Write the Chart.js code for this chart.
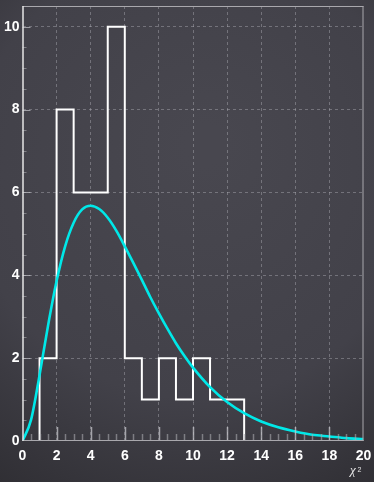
<!DOCTYPE html>
<html>
<head>
<meta charset="utf-8">
<script src="https://cdn.jsdelivr.net/npm/chart.js@4/dist/chart.umd.min.js"></script>
<style>
  html, body { margin: 0; padding: 0; background: #3a3940; }
  #wrap { width: 374px; height: 482px; position: relative; }
</style>
</head>
<body>
<div id="wrap"><canvas id="c" width="374" height="482"></canvas></div>
<script>
// Histogram: bin lower edges (width 1) and counts per bin
const binEdges = [0, 1, 2, 3, 4, 5, 6, 7, 8, 9, 10, 11, 12, 13, 14, 15, 16, 17, 18, 19, 20];
const binCounts = [0, 2, 8, 6, 6, 10, 2, 1, 2, 1, 2, 1, 1, 0, 0, 0, 0, 0, 0, 0, 0];

// Fitted chi-square curve, sampled along x
const curveX = [0, 0.5, 1, 1.5, 2, 2.5, 3, 3.5, 4, 4.5, 5, 5.5, 6, 6.5, 7, 7.5, 8, 8.5, 9, 9.5, 10, 11, 12, 13, 14, 15, 16, 17, 18, 19, 20];
const curveY = [0, 0.51, 1.59, 2.79, 3.86, 4.70, 5.27, 5.59, 5.68, 5.60, 5.39, 5.08, 4.70, 4.30, 3.89, 3.47, 3.08, 2.71, 2.36, 2.05, 1.77, 1.30, 0.94, 0.67, 0.47, 0.33, 0.23, 0.15, 0.11, 0.07, 0.05];

// Axis tick labels
const xTickValues = [0, 2, 4, 6, 8, 10, 12, 14, 16, 18, 20];
const xTickLabels = ['0', '2', '4', '6', '8', '10', '12', '14', '16', '18', '20'];
const yTickValues = [0, 2, 4, 6, 8, 10];
const yTickLabels = ['0', '2', '4', '6', '8', '10'];
const xTitle = 'χ';
const xTitleSup = '2';

const histPoints = binEdges.map((x, i) => ({ x: x, y: binCounts[i] }));
const curvePoints = curveX.map((x, i) => ({ x: x, y: curveY[i] }));

const isMajor = v => Math.abs(v / 2 - Math.round(v / 2)) < 1e-6;
const labelFont = 'bold 14px "Liberation Sans", Arial, sans-serif';

// Background with soft vignette
const backdrop = {
  id: 'backdrop',
  beforeDraw(chart) {
    const { ctx, width, height } = chart;
    const g = ctx.createRadialGradient(width * 0.55, height * 0.3, 20, width * 0.5, height * 0.4, height * 0.75);
    g.addColorStop(0, '#48474f');
    g.addColorStop(0.6, '#424149');
    g.addColorStop(1, '#2e2d32');
    ctx.save();
    ctx.fillStyle = g;
    ctx.fillRect(0, 0, width, height);
    ctx.restore();
  }
};

// Frame, inner tick marks and tick labels
const frame = {
  id: 'frame',
  afterDatasetsDraw(chart) {
    const { ctx, chartArea: a, scales } = chart;
    const xs = scales.x, ys = scales.y;
    ctx.save();
    // x ticks (inside, from bottom)
    for (let v = 0.5; v < 20; v += 0.5) {
      const px = Math.round(xs.getPixelForValue(v)) + 0.5;
      const major = isMajor(v);
      ctx.strokeStyle = major ? 'rgba(200,200,205,0.75)' : 'rgba(170,170,175,0.6)';
      ctx.lineWidth = 1.5;
      ctx.beginPath();
      ctx.moveTo(px, a.bottom);
      ctx.lineTo(px, a.bottom - (major ? 14 : 7));
      ctx.stroke();
    }
    // y ticks (inside, from left)
    ctx.lineWidth = 1;
    for (let v = 0.5; v <= 10; v += 0.5) {
      const py = Math.round(ys.getPixelForValue(v)) + 0.5;
      const major = isMajor(v);
      ctx.strokeStyle = major ? 'rgba(200,200,205,0.7)' : 'rgba(170,170,175,0.6)';
      ctx.beginPath();
      ctx.moveTo(a.left, py);
      ctx.lineTo(a.left + (major ? 8 : 4), py);
      ctx.stroke();
    }
    // frame lines
    ctx.strokeStyle = '#a9a8ad';
    ctx.beginPath();
    ctx.moveTo(a.left, a.top + 0.5); ctx.lineTo(a.right, a.top + 0.5);
    ctx.moveTo(a.right - 0.5, a.top); ctx.lineTo(a.right - 0.5, a.bottom);
    ctx.moveTo(a.left, a.bottom - 0.5); ctx.lineTo(a.right, a.bottom - 0.5);
    ctx.stroke();
    ctx.strokeStyle = '#e6e6e6';
    ctx.lineWidth = 1.5;
    ctx.beginPath();
    ctx.moveTo(a.left + 0.5, a.top); ctx.lineTo(a.left + 0.5, a.bottom);
    ctx.stroke();
    // tick labels
    ctx.fillStyle = '#ffffff';
    ctx.font = labelFont;
    ctx.textAlign = 'center';
    ctx.textBaseline = 'middle';
    xTickValues.forEach((v, i) => {
      ctx.fillText(xTickLabels[i], xs.getPixelForValue(v), 456);
    });
    ctx.textAlign = 'right';
    yTickValues.forEach((v, i) => {
      ctx.fillText(yTickLabels[i], 19.5, ys.getPixelForValue(v));
    });
    // axis title
    ctx.fillStyle = '#e8e8e8';
    ctx.font = 'italic 13px "Liberation Serif", serif';
    ctx.textAlign = 'left';
    ctx.textBaseline = 'alphabetic';
    ctx.fillText(xTitle, 350, 474);
    ctx.font = '7px "Liberation Sans", sans-serif';
    ctx.fillText(xTitleSup, 357.5, 472);
    ctx.restore();
  }
};

new Chart(document.getElementById('c'), {
  type: 'line',
  data: {
    datasets: [
      {
        label: 'curve',
        data: curvePoints,
        borderColor: '#00e8e8',
        borderWidth: 2.6,
        pointRadius: 0,
        cubicInterpolationMode: 'monotone',
        fill: false,
        order: 1
      },
      {
        label: 'histogram',
        data: histPoints,
        borderColor: '#ffffff',
        borderWidth: 2,
        pointRadius: 0,
        stepped: 'before',
        fill: false,
        order: 2
      }
    ]
  },
  options: {
    responsive: false,
    animation: false,
    events: [],
    layout: { padding: { top: 6, right: 10.5, left: 0, bottom: 0 } },
    plugins: { legend: { display: false }, tooltip: { enabled: false } },
    scales: {
      x: {
        type: 'linear',
        min: 0,
        max: 20,
        afterFit(s) { s.height = 41; s.paddingLeft = 0; s.paddingRight = 0; },
        afterBuildTicks(s) {
          s.ticks = xTickValues.map(v => ({ value: v }));
        },
        border: { display: false, dash: [3, 3] },
        grid: {
          drawTicks: false,
          color: ctx => (ctx.tick.value > 0 && ctx.tick.value < 20) ? 'rgba(180,180,188,0.42)' : 'rgba(0,0,0,0)',
          lineWidth: 1
        },
        ticks: { display: false }
      },
      y: {
        type: 'linear',
        min: 0,
        max: 10.5,
        afterFit(s) { s.width = 22.5; s.paddingTop = 0; s.paddingBottom = 0; },
        afterBuildTicks(s) {
          s.ticks = yTickValues.map(v => ({ value: v }));
        },
        border: { display: false, dash: [3, 3] },
        grid: {
          drawTicks: false,
          color: ctx => (ctx.tick.value > 0) ? 'rgba(180,180,188,0.42)' : 'rgba(0,0,0,0)',
          lineWidth: 1
        },
        ticks: { display: false }
      }
    }
  },
  plugins: [backdrop, frame]
});
</script>
</body>
</html>
